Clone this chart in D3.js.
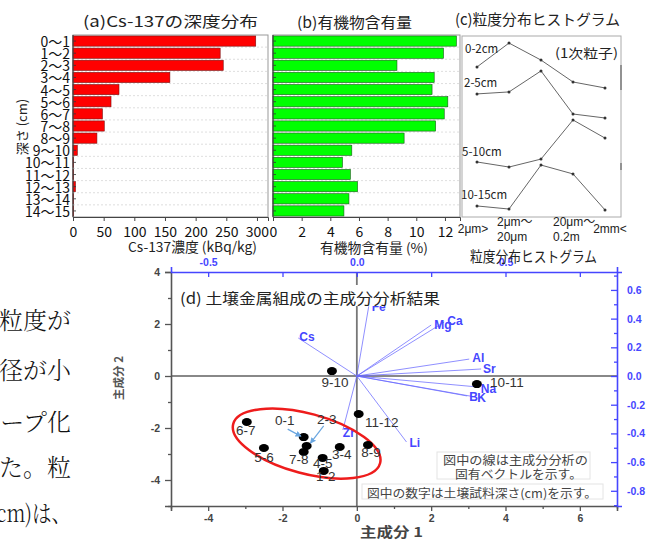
<!DOCTYPE html>
<html>
<head>
<meta charset="utf-8">
<script src="https://cdn.jsdelivr.net/npm/d3@7"></script>
<style>
  html, body { margin: 0; padding: 0; background: #fff; }
  svg { display: block; }
</style>
</head>
<body>
<svg id="fig" width="657" height="540"></svg>
<script>
// ---------- data ----------
const depthLabels = ["0～1","1～2","2～3","3～4","4～5","5～6","6～7","7～8","8～9","9～10","10～11","11～12","12～13","13～14","14～15"];
const cs137 = [298, 240, 245, 158, 75, 62, 48, 51, 39, 7, 1, 1, 4, 1, 1];          // kBq/kg
const organic = [12.8, 11.9, 8.65, 11.25, 11.1, 12.2, 11.95, 11.35, 9.15, 5.5, 4.85, 5.4, 5.9, 5.3, 4.95]; // %
const csTicks = [0, 50, 100, 150, 200, 250, 300];
const orgTicks = [0, 2, 4, 6, 8, 10, 12];

// particle size histogram (relative frequency, arbitrary units)
const sizeClasses = ["<2μm", "2-20μm", "20μm-0.2mm", "0.2-2mm", ">2mm"];
const sizeTickLines = [["2μm>"], ["2μm～", "20μm"], [], ["20μm～", "0.2m"], ["2mm<"]];
const layerNames = ["0-2cm", "2-5cm", "5-10cm", "10-15cm"];
const hist0_2 = [82.9, 96.1, 86.7, 74.6, 71.3];
const hist2_5 = [68.0, 69.1, 80.7, 56.9, 54.7];
const hist5_10 = [30.4, 27.6, 32.0, 53.6, 43.6];
const hist10_15 = [6.1, 4.4, 28.7, 23.8, 3.9];

// PCA scores of soil samples (depth, cm)
const sampleLabels = ["0-1","1-2","2-3","3-4","4-5","5-6","6-7","7-8","8-9","9-10","10-11","11-12"];
const pc1 = [-1.43, -0.89, -1.35, -0.46, -0.92, -2.50, -2.96, -1.43, 0.30, -0.67, 3.23, 0.05];
const pc2 = [-2.35, -3.65, -2.69, -2.73, -3.15, -2.77, -1.77, -2.92, -2.65, 0.19, -0.31, -1.46];

// PCA loadings (eigenvectors) of elements
const elements = ["Fe","Cs","Mg","Ca","Al","Sr","Na","B","K","Zr","Li"];
const load1 = [0.040, -0.197, 0.250, 0.294, 0.378, 0.418, 0.410, 0.371, 0.398, -0.047, 0.167];
const load2 = [0.485, 0.265, 0.355, 0.376, 0.118, 0.049, -0.077, -0.139, -0.146, -0.376, -0.460];

const pcTicks = [-4, -2, 0, 2, 4, 6];
const pc2Ticks = [-4, -2, 0, 2, 4];
const loadTopTicks = [-0.5, 0.0, 0.5];
const loadRightTicks = [-0.8, -0.6, -0.4, -0.2, 0.0, 0.2, 0.4, 0.6];

(function () {
// ---------- helpers ----------
const JP = "'Noto Sans CJK JP', sans-serif";
const NARROW = "'Liberation Sans Narrow', 'Noto Sans CJK JP', sans-serif";
const ARIAL = "'Liberation Sans', Arial, 'Noto Sans CJK JP', sans-serif";

const svg = d3.select("#fig");
svg.append("rect").attr("width", 657).attr("height", 540).attr("fill", "#fff");

function label(g, x, y, s, o = {}) {
  const t = g.append("text")
    .attr("x", x).attr("y", y)
    .attr("font-family", o.font || JP)
    .attr("font-size", o.size || 12)
    .attr("fill", o.fill || "#222")
    .attr("text-anchor", o.anchor || "start")
    .attr("dominant-baseline", "central")
    .text(s);
  if (o.weight) t.attr("font-weight", o.weight);
  if (o.len) t.attr("textLength", o.len).attr("lengthAdjust", "spacingAndGlyphs");
  if (o.rotate) t.attr("transform", `rotate(${o.rotate},${x},${y})`);
  return t;
}

// ---------- body text running off the left edge ----------
const body = svg.append("g");
const bodyLines = ["粒度が", "径が小", "ープ化", "た。粒", "cm)は、"];
const bodyY = [318, 368, 420, 465, 511];
const bodyLen = [null, null, null, null, 75];
bodyLines.forEach((s, i) => label(body, 71, bodyY[i], s, {
  anchor: "end", size: 24, fill: "#111", weight: 300, len: bodyLen[i],
  font: "'Noto Serif CJK JP', 'Noto Sans CJK JP', serif"
}));

// ---------- panels (a) and (b): depth profiles ----------
const plotTop = 35, plotBottom = 217;
const yRow = d3.scaleBand().domain(depthLabels).range([plotTop, plotBottom]).paddingInner(0.16).paddingOuter(0.08);
const xA = d3.scaleLinear().domain([0, 318]).range([73, 268]);
const xB = d3.scaleLinear().domain([0, 13.05]).range([273, 460]);

const pa = svg.append("g");
const step = yRow.step();
d3.range(1, depthLabels.length).forEach(i => {
  const y = plotTop + i * step;
  [[73, 268], [273, 460]].forEach(([a, b]) =>
    pa.append("line").attr("x1", a).attr("x2", b).attr("y1", y).attr("y2", y)
      .attr("stroke", "#d6d6d6").attr("stroke-dasharray", "2,2").attr("stroke-width", 0.8));
});

pa.append("rect").attr("x", 73).attr("y", plotTop).attr("width", 268 - 73).attr("height", plotBottom - plotTop)
  .attr("fill", "none").attr("stroke", "#999").attr("stroke-width", 1);
pa.append("rect").attr("x", 273).attr("y", plotTop).attr("width", 460 - 273).attr("height", plotBottom - plotTop)
  .attr("fill", "none").attr("stroke", "#999").attr("stroke-width", 1);

pa.selectAll(".barA").data(cs137).join("rect")
  .attr("x", xA(0)).attr("y", (d, i) => yRow(depthLabels[i]))
  .attr("width", d => xA(d) - xA(0)).attr("height", yRow.bandwidth())
  .attr("fill", "#ff0000").attr("stroke", "#7a1010").attr("stroke-width", 0.6);
pa.selectAll(".barB").data(organic).join("rect")
  .attr("x", xB(0)).attr("y", (d, i) => yRow(depthLabels[i]))
  .attr("width", d => xB(d) - xB(0)).attr("height", yRow.bandwidth())
  .attr("fill", "#00ff00").attr("stroke", "#1a5a1a").attr("stroke-width", 0.6);

depthLabels.forEach(lab => {
  const y = yRow(lab) + yRow.bandwidth() / 2;
  [73, 273].forEach(x0 => pa.append("line").attr("x1", x0).attr("x2", x0 + 3)
    .attr("y1", y).attr("y2", y).attr("stroke", "#333").attr("stroke-width", 0.8));
});

pa.append("line").attr("x1", 73).attr("x2", 73).attr("y1", plotTop).attr("y2", plotBottom).attr("stroke", "#444").attr("stroke-width", 1.2);
pa.append("line").attr("x1", 273).attr("x2", 273).attr("y1", plotTop).attr("y2", plotBottom).attr("stroke", "#444").attr("stroke-width", 1.2);

depthLabels.forEach(lab => label(pa, 70, yRow(lab) + yRow.bandwidth() / 2, lab,
  { anchor: "end", size: 14, font: NARROW, fill: "#111" }));

const axA = pa.append("g").attr("transform", `translate(0,${plotBottom})`)
  .call(d3.axisBottom(xA).tickValues(csTicks).tickSize(4).tickFormat(d3.format("d")));
const axB = pa.append("g").attr("transform", `translate(0,${plotBottom})`)
  .call(d3.axisBottom(xB).tickValues(orgTicks).tickSize(4).tickFormat(d3.format("d")));
[axA, axB].forEach(ax => {
  ax.select(".domain").attr("stroke", "#444");
  ax.selectAll(".tick line").attr("stroke", "#444");
  ax.selectAll(".tick text").attr("font-family", NARROW).attr("font-size", 14)
    .attr("fill", "#111").attr("dy", "0.95em");
});

label(pa, 83, 20, "(a)Cs-137の深度分布", { size: 15, len: 175, fill: "#222" });
label(pa, 297, 21, "(b)有機物含有量", { size: 15, len: 115, fill: "#222" });
label(pa, 128, 246, "Cs-137濃度 (kBq/kg)", { size: 13.5, len: 129, fill: "#222" });
label(pa, 320, 247, "有機物含有量 (%)", { size: 13.5, len: 108, fill: "#222" });
label(pa, 21, 127, "深さ (cm)", { size: 13, anchor: "middle", rotate: -90, fill: "#222" });

// ---------- panel (c): particle size histogram ----------
const pc = svg.append("g");
const xC = d3.scalePoint().domain(sizeClasses).range([477, 605]);
const yC = d3.scaleLinear().domain([0, 100]).range([217, 36]);
pc.append("rect").attr("x", 462).attr("y", 36).attr("width", 621 - 462).attr("height", 217 - 36)
  .attr("fill", "#fff").attr("stroke", "#aaa").attr("stroke-width", 1);
pc.append("line").attr("x1", 621).attr("x2", 621).attr("y1", 65).attr("y2", 90).attr("stroke", "#666").attr("stroke-width", 1.2);
pc.append("line").attr("x1", 621).attr("x2", 621).attr("y1", 163).attr("y2", 170).attr("stroke", "#666").attr("stroke-width", 1.2);

const series = [hist0_2, hist2_5, hist5_10, hist10_15];
const line = d3.line().x((d, i) => xC(sizeClasses[i])).y(d => yC(d));
series.forEach(s => {
  pc.append("path").attr("d", line(s)).attr("fill", "none").attr("stroke", "#666").attr("stroke-width", 1);
  pc.selectAll(null).data(s).join("circle")
    .attr("cx", (d, i) => xC(sizeClasses[i])).attr("cy", d => yC(d)).attr("r", 1.5).attr("fill", "#333");
});
const nameOffsets = [[-12, -19], [-13, -12], [-15, -11], [-16, -12]];
layerNames.forEach((n, i) => label(pc, xC(sizeClasses[0]) + nameOffsets[i][0], yC(series[i][0]) + nameOffsets[i][1], n,
  { size: 11.5, font: NARROW, fill: "#222" }));
label(pc, 555, 52, "(1次粒子)", { size: 13, len: 63, fill: "#222" });

const tickDx = [-4, -12, 0, -20, 5];
const tickAnchor = ["middle", "start", "middle", "start", "middle"];
sizeTickLines.forEach((lines, i) => {
  const x = xC(sizeClasses[i]) + tickDx[i];
  const ys = lines.length === 2 ? [222, 237] : [229];
  lines.forEach((s, j) => label(pc, x, ys[j], s, { size: 12, font: ARIAL, anchor: tickAnchor[i], fill: "#222" }));
});
label(pc, 455, 18, "(c)粒度分布ヒストグラム", { size: 15, len: 165, fill: "#222" });

// ---------- panel (d): PCA biplot ----------
const pd = svg.append("g");
const L = 171, R = 617, T = 272, B = 506;
const xD = d3.scaleLinear().domain([-5, 7]).range([L, R]);
const yD = d3.scaleLinear().domain([-5, 4]).range([B, T]);
const xTop = d3.scaleLinear().domain([-0.625, 0.875]).range([L, R]);
const yRight = d3.scaleLinear().domain([-0.906, 0.725]).range([B, T]);
const GRAY = "#555", BLUE = "#4646ff";
const fmt = f => d => d3.format(f)(d).replace("−", "-");

pd.append("line").attr("x1", xD(0)).attr("x2", xD(0)).attr("y1", T).attr("y2", B).attr("stroke", "#777").attr("stroke-width", 1.8);
pd.append("line").attr("x1", L).attr("x2", R).attr("y1", yD(0)).attr("y2", yD(0)).attr("stroke", "#888").attr("stroke-width", 1.8);

const axL = pd.append("g").attr("transform", `translate(${L},0)`)
  .call(d3.axisLeft(yD).tickValues(d3.range(-5, 5)).tickSize(6)
    .tickFormat(d => pc2Ticks.includes(d) ? fmt("d")(d) : ""));
axL.selectAll(".tick line").attr("x2", d => pc2Ticks.includes(d) ? -6 : -3);
const axBt = pd.append("g").attr("transform", `translate(0,${B})`)
  .call(d3.axisBottom(xD).tickValues(d3.range(-5, 8)).tickSize(5)
    .tickFormat(d => pcTicks.includes(d) ? fmt("d")(d) : ""));
axBt.selectAll(".tick line").attr("y2", d => pcTicks.includes(d) ? 5 : 3);
[axL, axBt].forEach(ax => {
  ax.select(".domain").attr("stroke", GRAY).attr("stroke-width", 1.6);
  ax.selectAll(".tick line").attr("stroke", GRAY).attr("stroke-width", 1.3);
  ax.selectAll(".tick text").attr("font-family", ARIAL).attr("font-weight", "bold")
    .attr("font-size", 10.5).attr("fill", "#444");
});
axL.selectAll(".tick text").attr("x", -11);
axBt.selectAll(".tick text").attr("y", 9);

const axT = pd.append("g").attr("transform", `translate(0,${T})`)
  .call(d3.axisTop(xTop).tickValues([-0.5, -0.25, 0, 0.25, 0.5, 0.75]).tickSize(5)
    .tickFormat(d => loadTopTicks.includes(d) ? fmt(".1f")(d) : ""));
const isMajorR = d => loadRightTicks.some(t => Math.abs(t - d) < 1e-9);
const axR = pd.append("g").attr("transform", `translate(${R},0)`)
  .call(d3.axisRight(yRight).tickValues(d3.range(-9, 8).map(v => v / 10)).tickSize(5)
    .tickFormat(d => isMajorR(d) ? fmt(".1f")(d) : ""));
axR.selectAll(".tick line").attr("x2", d => isMajorR(d) ? -6 : -3);
[axT, axR].forEach(ax => {
  ax.select(".domain").attr("stroke", BLUE).attr("stroke-width", 1.6);
  ax.selectAll(".tick line").attr("stroke", BLUE).attr("stroke-width", 1.3);
  ax.selectAll(".tick text").attr("font-family", ARIAL).attr("font-weight", "bold")
    .attr("font-size", 10.5).attr("fill", BLUE);
});
axT.selectAll(".tick line").attr("y2", 5);
axT.selectAll(".tick text").attr("y", -6);
axR.selectAll(".tick text").attr("x", 10);

label(pd, 118, 378, "主成分 2", { size: 11.5, weight: "bold", fill: "#555", anchor: "middle", rotate: -90 });
label(pd, 360, 531, "主成分 1", { size: 13.5, weight: "bold", fill: "#444", len: 63 });

// loading vectors
const ox = xTop(0), oy = yRight(0);
elements.forEach((e, i) => {
  pd.append("line").attr("x1", ox).attr("y1", oy)
    .attr("x2", xTop(load1[i])).attr("y2", yRight(load2[i]))
    .attr("stroke", "#6a6aff").attr("stroke-opacity", 0.75).attr("stroke-width", 1);
});
const elemDx = [3, 1, 3, 3, 3, 2, 2, 2, 2, 0, 3];
const elemDy = [1, -1, 0, -1, -1, 0, 2, 1, 1, 3, 1];
elements.forEach((e, i) => label(pd, xTop(load1[i]) + elemDx[i], yRight(load2[i]) + elemDy[i], e,
  { size: 12, weight: "bold", font: ARIAL, fill: BLUE }));

// grouping ellipse
const ell = { cx: -1.35, cy: -2.6, rx: 76, ry: 30, angle: 15 };
pd.append("ellipse").attr("cx", xD(ell.cx)).attr("cy", yD(ell.cy)).attr("rx", ell.rx).attr("ry", ell.ry)
  .attr("transform", `rotate(${ell.angle},${xD(ell.cx)},${yD(ell.cy)})`)
  .attr("fill", "none").attr("stroke", "#ee1c1c").attr("stroke-width", 2.5);

// sample points
pd.selectAll(".pt").data(pc1).join("ellipse")
  .attr("cx", d => xD(d)).attr("cy", (d, i) => yD(pc2[i])).attr("rx", 5).attr("ry", 4).attr("fill", "#000");

const labDx = [-19, 2, 20, 2, 0, 0, -1, -5, 3, 3, 30, 23];
const labDy = [-17, 6, -26, 8, 6, 9, 8, 8, 8, 11, -2, 9];
sampleLabels.forEach((s, i) => label(pd, xD(pc1[i]) + labDx[i], yD(pc2[i]) + labDy[i], s,
  { size: 13.5, font: ARIAL, anchor: "middle", fill: "#333" }));

// leader arrows for crowded labels
pd.append("defs").append("marker").attr("id", "ah").attr("viewBox", "0 0 6 6")
  .attr("refX", 5).attr("refY", 3).attr("markerWidth", 5).attr("markerHeight", 5).attr("orient", "auto")
  .append("path").attr("d", "M0,0 L6,3 L0,6 Z").attr("fill", "#6aa6e0");
[[0, -16, -8], [2, 17, -20]].forEach(([i, dx, dy]) => {
  const px = xD(pc1[i]), py = yD(pc2[i]);
  pd.append("line").attr("x1", px + dx).attr("y1", py + dy).attr("x2", px + (dx > 0 ? 4 : -3)).attr("y2", py + (dy < -10 ? -3 : -1))
    .attr("stroke", "#6aa6e0").attr("stroke-width", 1.2).attr("marker-end", "url(#ah)");
});

// notes
pd.append("rect").attr("x", 437).attr("y", 452).attr("width", 153).attr("height", 27).attr("fill", "#fff").attr("stroke", "#e4e4e4");
label(pd, 443, 459, "図中の線は主成分分析の", { size: 12, len: 145, fill: "#444" });
label(pd, 455, 473, "固有ベクトルを示す。", { size: 12, len: 127, fill: "#444" });
pd.append("rect").attr("x", 362).attr("y", 484).attr("width", 241).attr("height", 15).attr("fill", "#fff").attr("stroke", "#e4e4e4");
label(pd, 367, 492, "図中の数字は土壌試料深さ(cm)を示す。", { size: 12, len: 230, fill: "#444" });

// panel title over the plot
pd.append("rect").attr("x", 176).attr("y", 285).attr("width", 270).attr("height", 21).attr("fill", "#fff");
label(pd, 180, 297, "(d) 土壌金属組成の主成分分析結果", { size: 15, len: 260, fill: "#222" });

// histogram axis title, drawn last since it overlaps the top loading axis
label(svg, 470, 255, "粒度分布ヒストグラム", { size: 15, len: 127, fill: "#222" });
})();
</script>
</body>
</html>
